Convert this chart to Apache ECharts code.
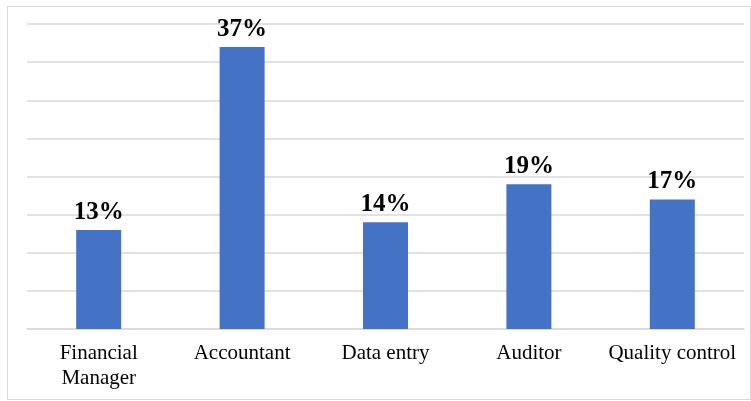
<!DOCTYPE html>
<html>
<head>
<meta charset="utf-8">
<script src="https://cdn.jsdelivr.net/npm/echarts@6/dist/echarts.min.js"></script>
<style>
  html, body { margin: 0; padding: 0; background: #fff; }
  #frame {
    position: absolute; left: 7px; top: 6px; width: 742px; height: 392px;
    border: 1px solid #d9d9d9;
  }
  #chart { position: absolute; left: 0; top: 0; width: 751px; height: 401px; }
</style>
</head>
<body>
<div id="frame"></div>
<div id="chart"></div>
<script>
const categories = ['Financial\nManager', 'Accountant', 'Data entry', 'Auditor', 'Quality control']
const shares = [13, 37, 14, 19, 17]

const myChart = echarts.init(document.getElementById('chart'))
myChart.setOption({
  animation: false,
  grid: { left: 27, right: 7, top: 24, bottom: 72 },
  xAxis: {
    type: 'category',
    data: categories,
    axisTick: { show: false },
    axisLine: { lineStyle: { color: '#d9d9d9', width: 1.5 } },
    axisLabel: {
      interval: 0,
      hideOverlap: false,
      color: '#000',
      fontFamily: 'Liberation Serif',
      fontSize: 21,
      lineHeight: 25,
      margin: 12
    }
  },
  yAxis: {
    type: 'value',
    min: 0,
    max: 40,
    interval: 5,
    axisLabel: { show: false },
    axisLine: { show: false },
    axisTick: { show: false },
    splitLine: { lineStyle: { color: '#d9d9d9', width: 1.5 } }
  },
  series: [{
    type: 'bar',
    data: shares,
    barWidth: 45,
    itemStyle: { color: '#4472c4' },
    label: {
      show: true,
      position: 'top',
      distance: 5,
      formatter: p => p.value + '%',
      color: '#000',
      fontFamily: 'Liberation Serif',
      fontWeight: 'bold',
      fontSize: 25
    }
  }]
})
</script>
</body>
</html>
